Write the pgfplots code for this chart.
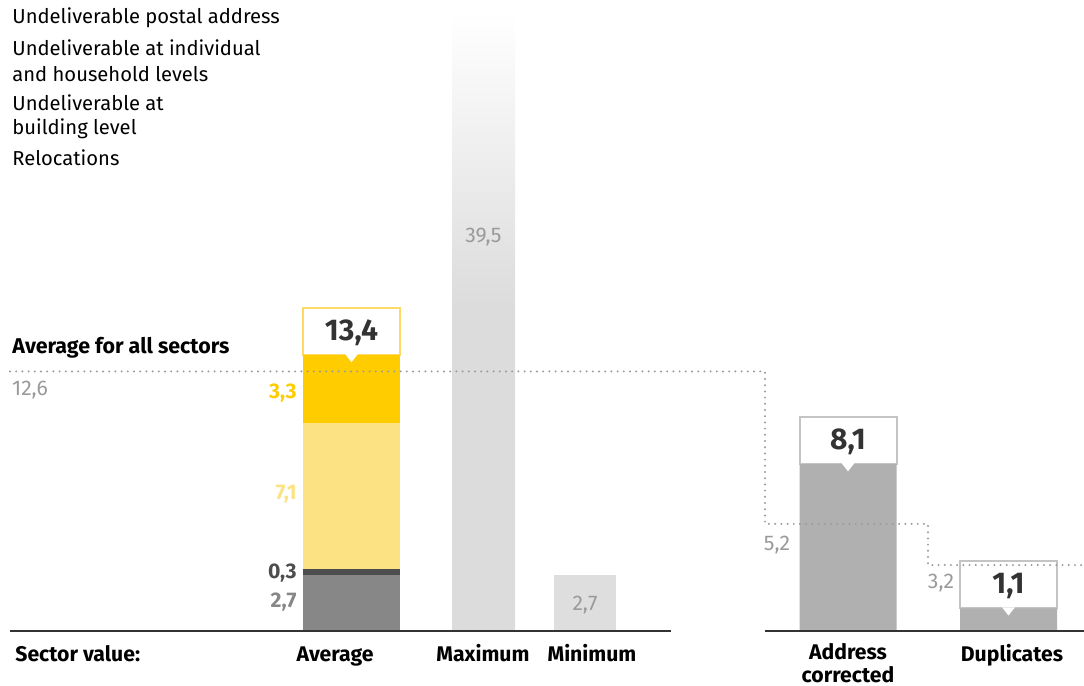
\documentclass[border=0pt]{standalone}
\usepackage{pgfplots}
\pgfplotsset{compat=1.18}
\usepackage{fontspec}
\setmainfont{Fira Sans}

\definecolor{segGray}{HTML}{878787}
\definecolor{segDark}{HTML}{4D4D4D}
\definecolor{segLight}{HTML}{FDE283}
\definecolor{segYellow}{HTML}{FFCC00}
\definecolor{boxYellow}{HTML}{FFD966}
\definecolor{boxGray}{HTML}{C4C4C4}
\definecolor{barGray}{HTML}{B0B0B0}
\definecolor{minGray}{HTML}{DEDEDE}
\definecolor{maxGray}{HTML}{DCDCDC}
\definecolor{noteGray}{HTML}{9A9A9A}
\definecolor{valDark}{HTML}{333333}

% fade for the clipped maximum bar
\pgfdeclareverticalshading{maxfade}{100bp}{color(0bp)=(maxGray); color(45bp)=(maxGray); color(63bp)=(white); color(100bp)=(white)}

\pgfplotsset{
  canvas/.style={width=542pt, height=343pt, scale only axis,
    xmin=0, xmax=1084, ymin=-2.67, ymax=30.63, hide axis},
}
\tikzset{
  small/.style={font=\fontsize{10.6}{12}\selectfont, inner sep=0pt},
  smallb/.style={font=\fontsize{10.6}{12}\selectfont\bfseries, inner sep=0pt},
  legtxt/.style={font=\fontsize{10.1}{12}\selectfont, inner sep=0pt, anchor=west},
  cat/.style={font=\fontsize{10.6}{12.5}\selectfont\bfseries, inner sep=0pt, anchor=base},
  big/.style={font=\fontsize{15}{17}\selectfont\bfseries, text=valDark, inner sep=0pt},
}

\begin{document}
\begin{tikzpicture}
% average, stacked by component, with the total box on top
\begin{axis}[canvas, ybar stacked, bar width=97]
\addplot[fill=segGray, draw=none] coordinates {(351.5,2.7)};
\addplot[fill=segDark, draw=none] coordinates {(351.5,0.3)};
\addplot[fill=segLight, draw=none] coordinates {(351.5,7.1)};
\addplot[fill=segYellow, draw=none] coordinates {(351.5,3.3)};
\addplot[fill=white, draw=boxYellow, line width=1pt] coordinates {(351.5,2.28)};
\end{axis}

% address corrected and duplicates
\begin{axis}[canvas, ybar stacked, bar width=97]
\addplot[fill=barGray, draw=none] coordinates {(848,8.1) (1008.5,1.1)};
\addplot[fill=white, draw=boxGray, line width=1pt] coordinates {(848,2.28) (1008.5,2.28)};
\end{axis}

\begin{axis}[canvas, clip=true]
\addplot[ybar, bar width=63, draw=none, shade, shading=maxfade] coordinates {(483.5,39.5)};
\addplot[ybar, bar width=62, fill=minGray, draw=none] coordinates {(585,2.7)};

% baselines
\addplot[valDark, line width=1pt] coordinates {(10,0) (671,0)};
\addplot[valDark, line width=1pt] coordinates {(765,0) (1084,0)};

% average for all sectors
\addplot[noteGray, line width=1.1pt, line cap=round, dash pattern=on 0pt off 3.1pt]
  coordinates {(10,12.6) (765,12.6) (765,5.2) (928,5.2) (928,3.2) (1084,3.2)};

% notches under the value boxes
\fill[white] (axis cs:345,13.45) -- (axis cs:358,13.45) -- (axis cs:351.5,13.05) -- cycle;
\fill[white] (axis cs:841.5,8.15) -- (axis cs:854.5,8.15) -- (axis cs:848,7.75) -- cycle;
\fill[white] (axis cs:1002,1.15) -- (axis cs:1015,1.15) -- (axis cs:1008.5,0.75) -- cycle;

% legend text
\node[legtxt] at (axis cs:12,29.75) {Undeliverable postal address};
\node[legtxt] at (axis cs:12,28.30) {Undeliverable at individual};
\node[legtxt] at (axis cs:12,27.04) {and household levels};
\node[legtxt] at (axis cs:12,25.63) {Undeliverable at};
\node[legtxt] at (axis cs:12,24.37) {building level};
\node[legtxt] at (axis cs:12,22.96) {Relocations};

\node[legtxt, font=\fontsize{10.7}{12}\selectfont\bfseries] at (axis cs:12,13.74) {Average for all sectors};
\node[small, text=noteGray] at (axis cs:30,11.70) {12,6};
\node[small, text=noteGray] at (axis cs:777,4.17) {5,2};
\node[small, text=noteGray] at (axis cs:941,2.33) {3,2};
\node[small, text=noteGray] at (axis cs:483.5,19.13) {39,5};
\node[small, text=noteGray] at (axis cs:585,1.26) {2,7};

\node[smallb, text=segYellow, anchor=east] at (axis cs:297,11.55) {3,3};
\node[smallb, text=segLight, anchor=east] at (axis cs:297,6.65) {7,1};
\node[smallb, text=segDark, anchor=east] at (axis cs:297,2.82) {0,3};
\node[smallb, text=segGray, anchor=east] at (axis cs:297,1.41) {2,7};

\node[big] at (axis cs:351.5,14.47) {13,4};
\node[big] at (axis cs:848,9.17) {8,1};
\node[big] at (axis cs:1008.5,2.18) {1,1};

% categories
\node[cat, anchor=base west] at (axis cs:15,-1.46) {Sector value:};
\node[cat] at (axis cs:335,-1.46) {Average};
\node[cat] at (axis cs:483,-1.46) {Maximum};
\node[cat] at (axis cs:592,-1.46) {Minimum};
\node[cat] at (axis cs:848,-1.40) {Address};
\node[cat] at (axis cs:848,-2.50) {corrected};
\node[cat] at (axis cs:1012,-1.46) {Duplicates};
\end{axis}
\pgfresetboundingbox
\path (0,0) rectangle (542pt,343pt);
\end{tikzpicture}
\end{document}
